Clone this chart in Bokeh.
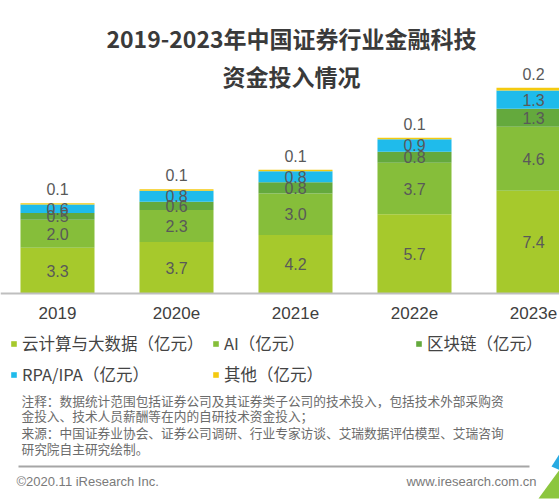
import numpy as np
from bokeh.plotting import figure
from bokeh.models import (ColumnDataSource, Range1d, Label, Legend, LegendItem,
                          BoxAnnotation, PolyAnnotation, Span)
from bokeh.core.properties import value
from bokeh.embed import file_html
from bokeh.resources import INLINE

# ---- data ----
categories = ["2019", "2020e", "2021e", "2022e", "2023e"]
cloud_bigdata = [3.3, 3.7, 4.2, 5.7, 7.4]
ai = [2.0, 2.3, 3.0, 3.7, 4.6]
blockchain = [0.5, 0.6, 0.8, 0.8, 1.3]
rpa_ipa = [0.6, 0.8, 0.8, 0.9, 1.3]
other = [0.1, 0.1, 0.1, 0.1, 0.2]
series_names = ["云计算与大数据（亿元）", "AI（亿元）", "区块链（亿元）", "RPA/IPA（亿元）", "其他（亿元）"]
title_lines = ["2019-2023年中国证券行业金融科技", "资金投入情况"]
notes = ["注释：数据统计范围包括证券公司及其证券类子公司的技术投入，包括技术外部采购资",
         "金投入、技术人员薪酬等在内的自研技术资金投入；",
         "来源：中国证券业协会、证券公司调研、行业专家访谈、艾瑞数据评估模型、艾瑞咨询",
         "研究院自主研究绘制。"]
footer_left = "©2020.11 iResearch Inc."
footer_right = "www.iresearch.com.cn"

colors = ["#A6C92C", "#86BE3A", "#64A93D", "#1FBBEB", "#F4CA10"]
keys = ["cloud", "ai", "chain", "rpa", "other"]
series = [cloud_bigdata, ai, blockchain, rpa_ipa, other]

W, H = 559, 500
BASE = 293      # baseline (pixels from top)
PXU = 13.9      # pixels per unit
STEP = 119      # pixels between categories
X0 = 57         # first category centre
x_idx = list(range(len(categories)))
src = ColumnDataSource(dict(x=x_idx, **{k: v for k, v in zip(keys, series)}))

p = figure(width=W, height=H, output_backend="svg", toolbar_location=None,
           x_range=Range1d(-X0 / STEP, (W - X0) / STEP),
           y_range=Range1d(-(H - BASE) / PXU, BASE / PXU),
           x_axis_location=None, y_axis_location=None,
           min_border=0, min_border_left=0, min_border_right=0,
           min_border_top=0, min_border_bottom=0)
p.outline_line_color = None
p.xgrid.visible = False
p.ygrid.visible = False
p.background_fill_color = "white"
p.border_fill_color = "white"

renderers = p.vbar_stack(keys, x="x", width=0.622, color=colors, line_color=None, source=src)

# category axis: baseline and labels
p.add_layout(Span(location=0, dimension="width", line_color="#BFBFBF", line_width=2))
p.text(x=x_idx, y=[0] * len(x_idx), text=categories, text_align="center",
       text_baseline="middle", y_offset=19, text_font=value("Liberation Sans"),
       text_font_size="17px", text_color="#404040")

# data labels
arr = np.array(series)
cum = np.cumsum(arr, axis=0)
label_font = value("Liberation Sans")
for i in range(4):
    mids = (cum[i] - arr[i] / 2).tolist()
    p.text(x=x_idx, y=mids, text=[f"{v:.1f}" for v in series[i]], text_align="center",
           text_baseline="middle", text_font=label_font, text_font_size="16px",
           text_color="#595959")
p.text(x=x_idx, y=cum[4].tolist(), text=[f"{v:.1f}" for v in other], text_align="center",
       text_baseline="bottom", y_offset=-8, text_font=label_font, text_font_size="16px",
       text_color="#595959")

# helpers: page coords (from top-left) -> screen coords (from bottom-left)
def sx(xr):
    return xr

def sy(yr):
    return H - yr

cjk = "Noto Sans CJK SC"
for txt, yr in zip(title_lines, [37, 75]):
    p.add_layout(Label(x=sx(291), y=sy(yr), x_units="screen", y_units="screen", text=txt,
                       text_align="center", text_baseline="middle", text_font=cjk,
                       text_font_size="23px", text_font_style="bold", text_color="#3A3A3A"))

# legend: one legend per item, placed like the reference
leg_pos = [(10, 345), (212, 345), (415, 345), (10, 376), (212, 376)]
for r, name, (xr, yr) in zip(renderers, series_names, leg_pos):
    lg = Legend(items=[LegendItem(label=name, renderers=[r])], location=(sx(xr), sy(yr + 10)),
                orientation="horizontal", glyph_width=7, glyph_height=7, label_standoff=5,
                padding=0, margin=0, spacing=0, border_line_color=None,
                background_fill_alpha=0, label_text_font=cjk, label_text_font_size="16.5px",
                label_text_color="#444444", label_height=20)
    p.add_layout(lg, "center")

for txt, yr in zip(notes, [400, 415, 432, 448]):
    p.add_layout(Label(x=sx(21), y=sy(yr), x_units="screen", y_units="screen", text=txt,
                       text_align="left", text_baseline="middle", text_font=cjk,
                       text_font_size="12.7px", text_color="#6B6B6B"))

p.add_layout(BoxAnnotation(left=sx(18), right=sx(529), bottom=sy(467), top=sy(465),
                           left_units="screen", right_units="screen", bottom_units="screen",
                           top_units="screen", fill_color="#A6A6A6", fill_alpha=1,
                           line_color=None))

p.add_layout(Label(x=sx(16), y=sy(481), x_units="screen", y_units="screen", text=footer_left,
                   text_align="left", text_baseline="middle", text_font="Liberation Sans",
                   text_font_size="13px", text_color="#7A7A7A"))
p.add_layout(Label(x=sx(536), y=sy(481), x_units="screen", y_units="screen", text=footer_right,
                   text_align="right", text_baseline="middle", text_font="Liberation Sans",
                   text_font_size="13px", text_color="#7A7A7A"))

# decorative corner shapes
p.add_layout(PolyAnnotation(xs=[sx(538), sx(560), sx(560)], ys=[sy(498), sy(468), sy(498)],
                            xs_units="screen", ys_units="screen", fill_color="#8CC63F",
                            fill_alpha=1, line_color=None))
p.add_layout(PolyAnnotation(xs=[sx(551), sx(560), sx(560)], ys=[sy(466), sy(452), sy(470)],
                            xs_units="screen", ys_units="screen", fill_color="#29ABE2",
                            fill_alpha=1, line_color=None))

open("out.html", "w").write(file_html(p, INLINE))
